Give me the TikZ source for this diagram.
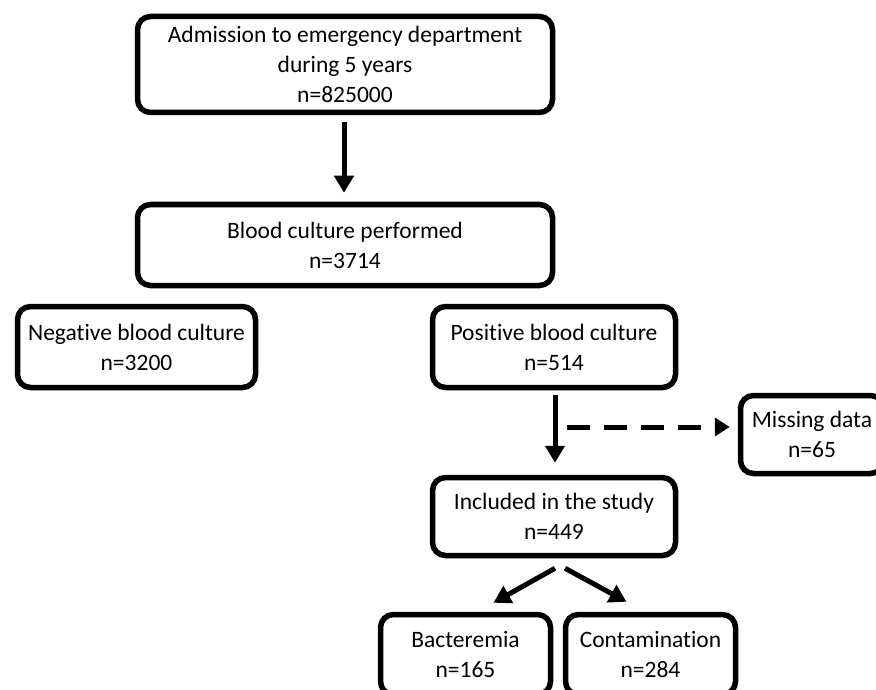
\documentclass[tikz,border=0pt]{standalone}
\usepackage{fontspec}
\setmainfont[RawFeature={-liga;-clig;-dlig}]{Carlito}
\usetikzlibrary{arrows.meta}
\begin{document}
\begin{tikzpicture}[x=1pt,y=-1pt,
  box/.style={draw=black, line width=5.5pt, rounded corners=13pt, align=center,
    inner sep=0pt, font=\fontsize{23.5}{30}\selectfont, text=black},
  arr/.style={line width=5pt, -{Triangle[length=17pt,width=19pt]}},
  darr/.style={line width=5pt, dash pattern=on 23pt off 14pt, -{Triangle[length=15pt,width=18pt]}}]
\useasboundingbox[fill=white] (0,0) rectangle (876,690);
\node[box, minimum width=415pt, minimum height=96pt] (adm) at (345,64.5)
  {Admission to emergency department\\during 5 years\\n=825000};
\node[box, minimum width=415pt, minimum height=81pt] (bc) at (345,245)
  {Blood culture performed\\n=3714};
\node[box, minimum width=238pt, minimum height=81pt] (neg) at (136.5,347)
  {Negative blood culture\\n=3200};
\node[box, minimum width=243pt, minimum height=81pt] (pos) at (554,347)
  {Positive blood culture\\n=514};
\node[box, minimum width=143pt, minimum height=78pt] (mis) at (812,434.5)
  {Missing data\\n=65};
\node[box, minimum width=243pt, minimum height=78pt] (inc) at (554,516.5)
  {Included in the study\\n=449};
\node[box, minimum width=170pt, minimum height=80pt] (bac) at (465.5,654.5)
  {Bacteremia\\n=165};
\node[box, minimum width=170pt, minimum height=80pt] (con) at (650.5,654.5)
  {Contamination\\n=284};
\draw[arr] ([xshift=-1pt,yshift=-7pt]adm.south) -- ([xshift=-1pt,yshift=9pt]bc.north);
\draw[arr] ([xshift=1pt,yshift=-5pt]pos.south) -- ([xshift=1pt,yshift=12pt]inc.north);
\coordinate (d1) at (567,427);
\draw[darr] (d1) -- ([xshift=-8pt]mis.west |- d1);
\draw[arr] ([xshift=1pt,yshift=-10pt]inc.south) -- ([xshift=28pt,yshift=9pt]bac.north);
\draw[arr] ([xshift=11pt,yshift=-10pt]inc.south) -- ([xshift=-24pt,yshift=10pt]con.north);
\end{tikzpicture}
\end{document}
